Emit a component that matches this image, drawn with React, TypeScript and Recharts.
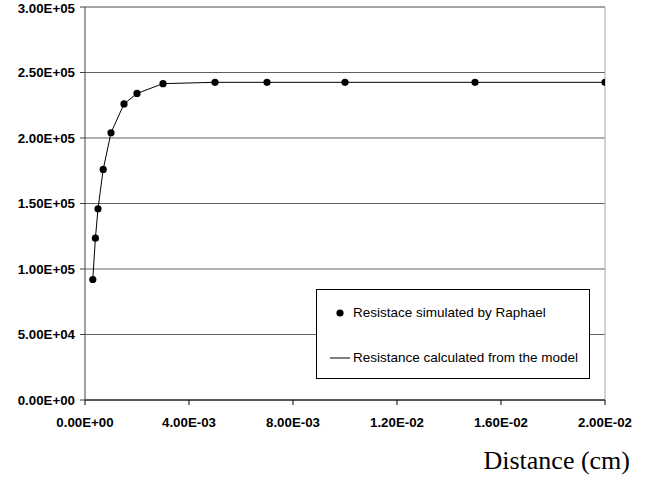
import {
  ComposedChart,
  Line,
  Scatter,
  XAxis,
  YAxis,
  CartesianGrid,
  ReferenceLine,
} from 'recharts';

const distance = [
  0.0003, 0.0004, 0.0005, 0.0007, 0.001, 0.0015, 0.002, 0.003, 0.005, 0.007,
  0.01, 0.015, 0.02,
];
const resistance = [
  92000, 123500, 146000, 176000, 204000, 226000, 234000, 241500, 242500,
  242500, 242500, 242500, 242500,
];
const xTicks = [0, 0.004, 0.008, 0.012, 0.016, 0.02];
const yTicks = [0, 50000, 100000, 150000, 200000, 250000, 300000];

const seriesNames = [
  'Resistace simulated by Raphael',
  'Resistance calculated from the model',
];

const data = distance.map((x, i) => ({ x, y: resistance[i] }));

const sci = (v: number): string => {
  if (v === 0) return '0.00E+00';
  const [m, e] = v.toExponential(2).split('e');
  const n = parseInt(e, 10);
  return `${m}E${n < 0 ? '-' : '+'}${String(Math.abs(n)).padStart(2, '0')}`;
};

const tickStyle = {
  fontFamily: '"Liberation Sans", Arial, sans-serif',
  fontSize: 13.3,
  fontWeight: 700,
  fill: '#000',
};

const Dot = (props: any) => (
  <circle cx={props.cx} cy={props.cy} r={3.6} fill="#000" />
);

// legend drawn as an overlay so it does not take space from the plot
const LegendBox = () => (
  <div
    style={{
      position: 'absolute',
      left: 316,
      top: 289,
      width: 272,
      height: 88,
      border: '1px solid #000',
      background: '#fff',
      fontFamily: '"Liberation Sans", Arial, sans-serif',
      fontSize: 13.5,
      color: '#000',
    }}
  >
    <svg
      width={40}
      height={88}
      style={{ position: 'absolute', left: 0, top: 0 }}
    >
      <circle cx={23} cy={23} r={3.6} fill="#000" />
      <line x1={13} x2={33} y1={68} y2={68} stroke="#000" strokeWidth={1} />
    </svg>
    <span style={{ position: 'absolute', left: 36, top: 15, lineHeight: '16px', whiteSpace: 'nowrap' }}>
      {seriesNames[0]}
    </span>
    <span style={{ position: 'absolute', left: 36, top: 60, lineHeight: '16px', whiteSpace: 'nowrap' }}>
      {seriesNames[1]}
    </span>
  </div>
);

const App = () => {
  return (
    <div
      style={{
        position: 'absolute',
        left: 0,
        top: 0,
        width: 651,
        height: 480,
        background: '#fff',
      }}
    >
      <ComposedChart
        width={651}
        height={480}
        data={data}
        margin={{ top: 7, right: 46, bottom: 50, left: 0 }}
      >
        <CartesianGrid vertical={false} stroke="#606060" />
        <XAxis
          dataKey="x"
          type="number"
          domain={[0, 0.02]}
          ticks={xTicks}
          tickFormatter={sci}
          tick={tickStyle}
          tickSize={5}
          tickMargin={13}
          height={30}
          stroke="#000"
          allowDataOverflow
        />
        <YAxis
          type="number"
          domain={[0, 300000]}
          ticks={yTicks}
          tickFormatter={sci}
          tick={tickStyle}
          tickSize={5}
          tickMargin={5}
          width={85}
          stroke="#404040"
        />
        <ReferenceLine y={300000} stroke="#9a9a9a" />
        <ReferenceLine x={0.02} stroke="#a8a8a8" />
        <Line
          dataKey="y"
          type="linear"
          stroke="#000"
          strokeWidth={1}
          dot={false}
          activeDot={false}
          isAnimationActive={false}
          name={seriesNames[1]}
        />
        <Scatter
          dataKey="y"
          fill="#000"
          shape={Dot}
          isAnimationActive={false}
          name={seriesNames[0]}
        />
      </ComposedChart>
      <LegendBox />
      <div
        style={{
          position: 'absolute',
          left: 0,
          width: 630,
          top: 448,
          textAlign: 'right',
          fontFamily: '"Liberation Serif", "Times New Roman", serif',
          fontSize: 26,
          lineHeight: '26px',
          color: '#000',
        }}
      >
        Distance (cm)
      </div>
    </div>
  );
};

export default App;
